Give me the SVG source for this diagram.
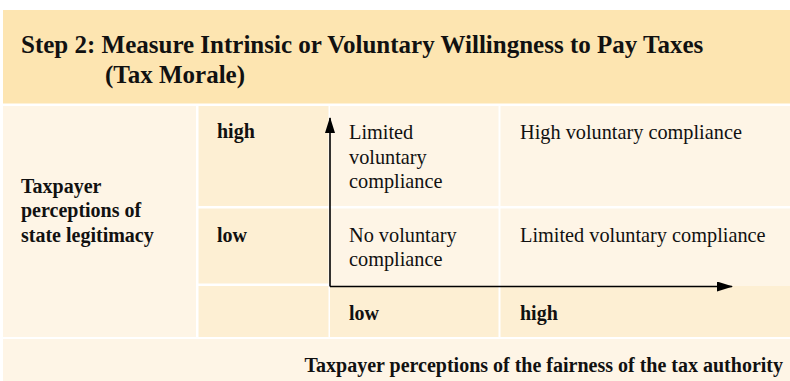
<svg xmlns="http://www.w3.org/2000/svg" width="790" height="381" viewBox="0 0 790 381">
<style>
.hdr{fill:#FDE5B1}
.lt{fill:#FEF5E6}
.md{fill:#FDEFD3}
text{font-family:"Liberation Serif","Times New Roman",serif;fill:#111}
.t{font-size:25px;font-weight:bold}
.b{font-size:20px;font-weight:bold}
.r{font-size:20.3px}
.ax{stroke:#000;stroke-width:1.6;fill:none}
</style>
<defs>
<marker id="ah" viewBox="0 0 16 10" refX="15" refY="5" markerWidth="16" markerHeight="10" markerUnits="userSpaceOnUse" orient="auto">
<path d="M0,0 L16,5 L0,10 Z" fill="#000"/>
</marker>
</defs>
<rect width="790" height="381" fill="#fff"/>
<g id="header">
<rect class="hdr" x="3" y="10" width="787" height="93.5"/>
<text class="t" x="21" y="53">Step 2: Measure Intrinsic or Voluntary Willingness to Pay Taxes</text>
<text class="t" x="105" y="83">(Tax Morale)</text>
</g>
<g id="y-axis-label">
<rect class="lt" x="3" y="106" width="193" height="231"/>
<text class="b"><tspan x="21" y="193">Taxpayer</tspan><tspan x="21" y="217">perceptions of</tspan><tspan x="21" y="241.5">state legitimacy</tspan></text>
</g>
<g id="y-high">
<rect class="md" x="198.5" y="106" width="130" height="100"/>
<text class="b" x="217" y="138">high</text>
</g>
<g id="y-low">
<rect class="md" x="198.5" y="208.5" width="130" height="75"/>
<text class="b" x="217" y="241.5">low</text>
</g>
<g id="corner">
<rect class="md" x="198.5" y="286" width="130" height="51"/>
</g>
<g id="cell-high-low">
<rect class="lt" x="330" y="106" width="168.5" height="100"/>
<text class="r"><tspan x="349" y="139">Limited</tspan><tspan x="349" y="163.5">voluntary</tspan><tspan x="349" y="188">compliance</tspan></text>
</g>
<g id="cell-high-high">
<rect class="lt" x="500.5" y="106" width="289.5" height="100"/>
<text class="r" x="520" y="139">High voluntary compliance</text>
</g>
<g id="cell-low-low">
<rect class="lt" x="330" y="208.5" width="168.5" height="77.5"/>
<text class="r"><tspan x="349" y="241.5">No voluntary</tspan><tspan x="349" y="266">compliance</tspan></text>
</g>
<g id="cell-low-high">
<rect class="lt" x="500.5" y="208.5" width="289.5" height="77.5"/>
<text class="r" x="520" y="241.5">Limited voluntary compliance</text>
</g>
<g id="x-low">
<rect class="md" x="330" y="286" width="168.5" height="51"/>
<text class="b" x="349" y="320">low</text>
</g>
<g id="x-high">
<rect class="md" x="500.5" y="286" width="289.5" height="51"/>
<text class="b" x="520" y="320">high</text>
</g>
<g id="x-axis-label">
<rect class="lt" x="3" y="339" width="787" height="42"/>
<text class="b" x="783" y="371.5" text-anchor="end">Taxpayer perceptions of the fairness of the tax authority</text>
</g>
<g id="connectors">
<path class="ax" d="M330,286.5 L330,118" marker-end="url(#ah)"/>
<path class="ax" d="M330,286.5 L732,286.5" marker-end="url(#ah)"/>
</g>
</svg>
